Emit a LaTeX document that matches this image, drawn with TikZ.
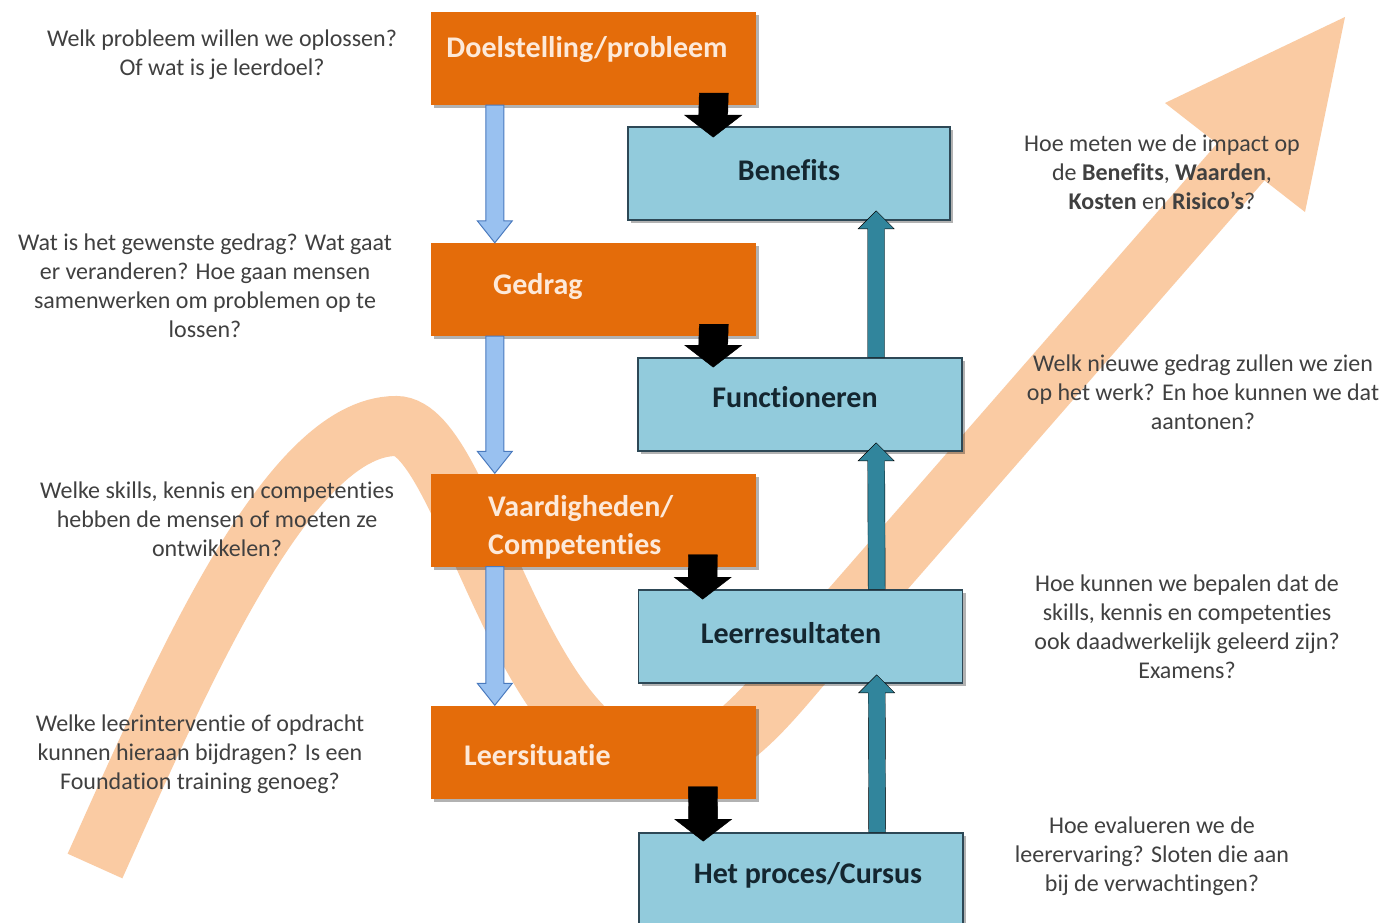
\documentclass[tikz,border=0pt]{standalone}
\usepackage{fontspec}
\setmainfont{Carlito}[Ligatures=CommonOff]
\usetikzlibrary{calc,shadows}

\definecolor{bandpeach}{RGB}{250,203,163}
\definecolor{stepor}{RGB}{228,108,10}
\definecolor{stepbl}{RGB}{146,203,220}
\definecolor{stepblline}{RGB}{45,72,86}
\definecolor{tealarrow}{RGB}{49,133,156}
\definecolor{skyfill}{RGB}{153,193,240}
\definecolor{skyline}{RGB}{74,122,190}
\definecolor{qgray}{RGB}{64,64,64}
\definecolor{cream}{RGB}{253,233,217}
\definecolor{navytext}{RGB}{20,38,48}

% block arrow: #1 style, #2 start, #3 tip, #4 half shaft, #5 half head, #6 signed head length
\newcommand\blockarrow[6]{%
  \draw[#1] ($#2+(-#4,0)$) -- ($#3+(-#4,#6)$) -- ($#3+(-#5,#6)$) -- ($#3$)
    -- ($#3+(#5,#6)$) -- ($#3+(#4,#6)$) -- ($#2+(#4,0)$) -- cycle;}

\tikzset{
  orangebox/.style={fill=stepor, minimum width=325pt, minimum height=93pt, inner sep=0pt,
    drop shadow={shadow xshift=3pt, shadow yshift=-3pt, opacity=0.3, fill=black}},
  bluebox/.style={fill=stepbl, draw=stepblline, line width=1.6pt, minimum width=324pt,
    minimum height=93pt, inner sep=0pt,
    drop shadow={shadow xshift=3pt, shadow yshift=-3pt, opacity=0.3, fill=black}},
  qtext/.style={font=\fontsize{24}{29}\selectfont, text=qgray, align=center, inner sep=0pt},
  ortext/.style={font=\fontsize{30}{38}\selectfont\bfseries, text=cream, inner sep=0pt},
  bltext/.style={font=\fontsize{30}{38}\selectfont\bfseries, text=navytext, inner sep=0pt},
  band/.style={draw=bandpeach, line width=60pt, line cap=butt},
  skyarrow/.style={fill=skyfill, draw=skyline, line width=1pt},
  blackarrow/.style={fill=black},
  tealup/.style={fill=tealarrow},
}

\begin{document}
\begin{tikzpicture}[x=1pt,y=-1pt]
\useasboundingbox (0,0) rectangle (1384,923);
\fill[white] (0,0) rectangle (1384,923);

% rising swoosh behind everything
\draw[band] (95,866) .. controls (177,684) and (286,426) .. (396,426)
  .. controls (466,426) and (520,765) .. (660,765)
  .. controls (720,765) and (764,709) .. (800,667) -- (1260,140);
\fill[bandpeach] (1345,17) -- (1165,103) -- (1305,212) -- cycle;

% question texts
\node[qtext] (q1) at (222,54.5) {Welk probleem willen we oplossen?\\Of wat is je leerdoel?};
\node[qtext] (q2) at (205,285.5) {Wat is het gewenste gedrag? Wat gaat\\er veranderen? Hoe gaan mensen\\samenwerken om problemen op te\\lossen?};
\node[qtext] (q3) at (217,519) {Welke skills, kennis en competenties\\hebben de mensen of moeten ze\\ontwikkelen?};
\node[qtext] (q4) at (200,754) {Welke leerinterventie of opdracht\\kunnen hieraan bijdragen? Is een\\Foundation training genoeg?};
\node[qtext] (r1) at (1162,172) {Hoe meten we de impact op\\de \textbf{Benefits}, \textbf{Waarden},\\\textbf{Kosten} en \textbf{Risico's}?};
\node[qtext] (r2) at (1203,392) {Welk nieuwe gedrag zullen we zien\\op het werk? En hoe kunnen we dat\\aantonen?};
\node[qtext] (r3) at (1187,627) {Hoe kunnen we bepalen dat de\\skills, kennis en competenties\\ook daadwerkelijk geleerd zijn?\\Examens?};
\node[qtext] (r4) at (1152,856) {Hoe evalueren we de\\leerervaring? Sloten die aan\\bij de verwachtingen?};

% left column: design steps
\node[orangebox] (goal) at (593.5,58.5) {};
\node[orangebox] (ged)  at (593.5,289.5) {};
\node[orangebox] (vaa)  at (593.5,520) {};
\node[orangebox] (sit)  at (593.5,752) {};

% right column: evaluation levels
\node[bluebox, minimum width=322pt] (ben) at (789,173.5) {};
\node[bluebox] (fun)  at (800,404.5) {};
\node[bluebox] (leer) at (800.5,636.5) {};
\node[bluebox] (proc) at (801,879.5) {};

% box labels
\node[ortext] (tgoal) at (587,50) {Doelstelling/probleem};
\node[ortext, anchor=west] (tged) at (493,287) {Gedrag};
\node[ortext, anchor=west, align=left] (tvaa) at (488,527) {Vaardigheden/\\Competenties};
\node[ortext, anchor=west] (tsit) at (464,755) {Leersituatie};
\node[bltext] (tben) at (789,170) {Benefits};
\node[bltext] (tfun) at (795,397) {Functioneren};
\node[bltext] (tleer) at (791,633) {Leerresultaten};
\node[bltext] (tproc) at (808,875) {Het proces/Cursus};

% downward flow in the design column
\blockarrow{skyarrow}{(goal.south west)+(64,0)}{(ged.north west)+(64,0)}{9}{17.5}{-22}
\blockarrow{skyarrow}{(ged.south west)+(64,0)}{(vaa.north west)+(64,0)}{9}{17.5}{-22}
\blockarrow{skyarrow}{(vaa.south west)+(64,0)}{(sit.north west)+(64,0)}{9}{17.5}{-22}

% each step feeds its evaluation level
\blockarrow{blackarrow}{(goal.south west)+(283,-12)}{(ben.north west)+(86,11)}{14.5}{28.5}{-22}
\blockarrow{blackarrow}{(ged.south west)+(283,-12)}{(fun.north west)+(76,10)}{14.5}{28.5}{-22}
\blockarrow{blackarrow}{(vaa.south west)+(272,-12)}{(leer.north west)+(65,10)}{14.5}{28.5}{-22}
\blockarrow{blackarrow}{(sit.south west)+(272,-12)}{(proc.north west)+(65,9)}{14.5}{28.5}{-22}

% upward flow in the evaluation column
\blockarrow{tealup}{(fun.north west)+(239,0)}{(ben.south west)+(249,-10)}{8.5}{18}{18}
\blockarrow{tealup}{(leer.north west)+(239,0)}{(fun.south west)+(239,-9)}{8.5}{18}{18}
\blockarrow{tealup}{(proc.north west)+(239,0)}{(leer.south west)+(239,-9)}{8.5}{18}{18}
\end{tikzpicture}
\end{document}
